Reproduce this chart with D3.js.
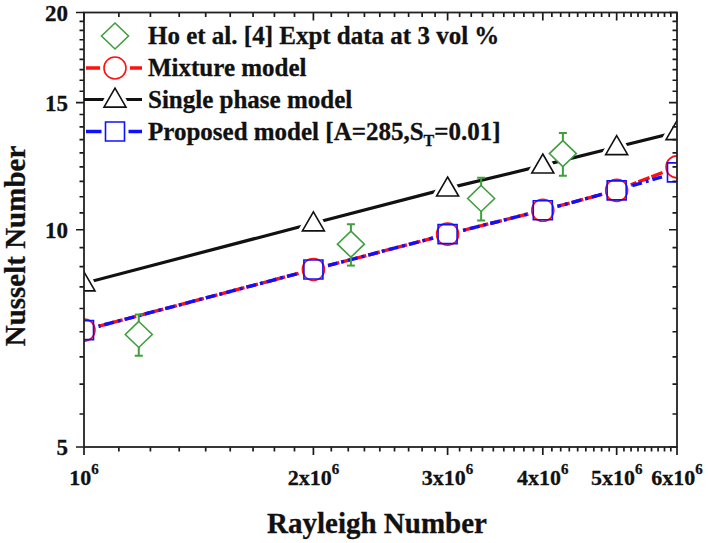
<!DOCTYPE html>
<html>
<head>
<meta charset="utf-8">
<script src="https://cdn.jsdelivr.net/npm/d3@7"></script>
<style>
  html, body { margin: 0; padding: 0; background: #fff; }
  svg { display: block; }
  text.lbl { font-family: "Liberation Serif", "Times New Roman", serif; font-weight: bold; fill: #111; stroke: #111; stroke-width: 0.3px; }
</style>
</head>
<body>
<svg id="chart" width="708" height="543"></svg>
<script>
// ---- data ----
const rayleigh     = [1e6, 2e6, 3e6, 4e6, 5e6, 6e6];
const mixtureNu    = [7.26, 8.81, 9.86, 10.64, 11.34, 12.22];
const singleNu     = [8.43, 10.21, 11.41, 12.28, 13.02, 13.66];
const proposedNu   = [7.26, 8.81, 9.86, 10.64, 11.34, 12.01];
const exptRa       = [1.18e6, 2.24e6, 3.32e6, 4.25e6];
const exptNu       = [7.16, 9.55, 11.05, 12.75];
const exptErr      = [0.47, 0.63, 0.75, 0.87];
const xMajorTicks  = [1e6, 2e6, 3e6, 4e6, 5e6, 6e6];
const xTickMant    = ["", "2x", "3x", "4x", "5x", "6x"];
const yMajorTicks  = [5, 10, 15, 20];
const legendLabels = ["Ho et al. [4] Expt data at 3 vol %", "Mixture model", "Single phase model", "Proposed model [A=285,S", "T", "=0.01]"];

// ---- layout ----
const L = 84, R = 677, T = 12.5, B = 447;
const GREEN = "#3f9f3f", RED = "#ff1010", BLUE = "#1010ff", BLACK = "#111", AXIS = "#222";

const svg = d3.select("#chart");
const x = d3.scaleLog().domain([1e6, 6e6]).range([L, R]);
const y = d3.scaleLog().domain([5, 20]).range([B, T]);

function minorTicks(majors) {
  const out = [];
  for (let i = 0; i < majors.length - 1; i++) {
    const a = majors[i], b = majors[i + 1];
    for (let k = 1; k <= 8; k++) out.push(a + k * (b - a) / 9);
  }
  return out;
}
const xMinor = minorTicks(xMajorTicks);
const yMinor = minorTicks(yMajorTicks);

svg.append("defs").append("clipPath").attr("id", "plotclip")
  .append("rect").attr("x", L).attr("y", T).attr("width", R - L).attr("height", B - T);

// ---- marker shapes ----
function trianglePath(w, h) { return `M0,${-h*0.6}L${w/2},${h*0.4}L${-w/2},${h*0.4}Z`; }
function diamondPath(w, h) { return `M0,${-h/2}L${w/2},0L0,${h/2}L${-w/2},0Z`; }
const shapePath = {
  circle: d3.symbol().type(d3.symbolCircle).size(Math.PI * 11 * 11)(),
  square: d3.symbol().type(d3.symbolSquare).size(19 * 19)(),
  triangle: trianglePath(22, 19),
  diamond: diamondPath(27, 26)
};

const plot = svg.append("g").attr("clip-path", "url(#plotclip)");
const lineGen = d3.line().x(d => x(d[0])).y(d => y(d[1]));
const zip = (a, b) => a.map((v, i) => [v, b[i]]);

plot.append("path").datum(zip(rayleigh, singleNu)).attr("d", lineGen)
  .attr("fill", "none").attr("stroke", BLACK).attr("stroke-width", 3.2);
plot.append("path").datum(zip(rayleigh, mixtureNu)).attr("d", lineGen)
  .attr("fill", "none").attr("stroke", RED).attr("stroke-width", 3.4)
  .attr("stroke-dasharray", "12,2");
plot.append("path").datum(zip(rayleigh, proposedNu)).attr("d", lineGen)
  .attr("fill", "none").attr("stroke", BLUE).attr("stroke-width", 3.4)
  .attr("stroke-dasharray", "10,4,3,4");

function halos(g, xs, ys, shape) {
  g.selectAll(null).data(zip(xs, ys)).enter().append("path")
    .attr("d", shapePath[shape])
    .attr("transform", d => `translate(${x(d[0])},${y(d[1])})`)
    .attr("fill", "#fff").attr("stroke", "#fff").attr("stroke-width", 8);
}
halos(plot, rayleigh, singleNu, "triangle");
halos(plot, rayleigh, mixtureNu, "circle");
halos(plot, rayleigh, proposedNu, "square");

function markers(g, xs, ys, shape, color, fill) {
  g.selectAll(null).data(zip(xs, ys)).enter().append("path")
    .attr("d", shapePath[shape])
    .attr("transform", d => `translate(${x(d[0])},${y(d[1])})`)
    .attr("fill", fill || "none").attr("stroke", color).attr("stroke-width", 1.6);
}
markers(plot, rayleigh, mixtureNu, "circle", RED);
markers(plot, rayleigh, proposedNu, "square", BLUE);
markers(plot, rayleigh, singleNu, "triangle", BLACK);

const eb = plot.append("g");
exptRa.forEach((ra, i) => {
  const cx = x(ra), y1 = y(exptNu[i] + exptErr[i]), y0 = y(exptNu[i] - exptErr[i]);
  [[cx, cx, y1, y0], [cx - 4, cx + 4, y1, y1], [cx - 4, cx + 4, y0, y0]].forEach(s => {
    eb.append("line").attr("x1", s[0]).attr("x2", s[1]).attr("y1", s[2]).attr("y2", s[3])
      .attr("stroke", GREEN).attr("stroke-width", 2);
  });
});
markers(plot, exptRa, exptNu, "diamond", GREEN, "#fff");

// ---- axes: frame + ticks as one path ----
let d = "";
xMajorTicks.forEach(v => { const px = x(v); d += `M${px},${B}V${B + 8}M${px},${T}V${T + 8}`; });
xMinor.forEach(v => { const px = x(v); d += `M${px},${B}V${B + 4.5}M${px},${T}V${T + 4.5}`; });
yMajorTicks.forEach(v => { const py = y(v); d += `M${L - 8},${py}H${L}M${R - 8},${py}H${R}`; });
yMinor.forEach(v => { const py = y(v); d += `M${L - 4.5},${py}H${L}M${R - 4.5},${py}H${R}`; });
svg.append("path").attr("d", d).attr("fill", "none").attr("stroke", "#1a1a1a").attr("stroke-width", 1.7);

svg.append("rect").attr("x", L).attr("y", T).attr("width", R - L).attr("height", B - T)
  .attr("fill", "none").attr("stroke", AXIS).attr("stroke-width", 1.8);

// y tick labels
svg.append("g").selectAll("text").data(yMajorTicks).enter().append("text")
  .attr("class", "lbl")
  .attr("x", L - 16).attr("y", v => y(v) + 8)
  .attr("text-anchor", "end").attr("font-size", 23).text(v => v);

// x tick labels with superscripts
const xl = svg.append("g");
xMajorTicks.forEach((v, i) => {
  const t = xl.append("text").attr("class", "lbl").attr("x", x(v)).attr("y", 485)
    .attr("text-anchor", "middle").attr("font-size", 22);
  t.append("tspan").text(xTickMant[i] + "10");
  t.append("tspan").attr("font-size", 15).attr("dy", -11).text("6");
});

// axis titles
svg.append("text").attr("class", "lbl").attr("x", 377).attr("y", 533).attr("text-anchor", "middle")
  .attr("font-size", 29).text("Rayleigh Number");
svg.append("text").attr("class", "lbl").attr("transform", "translate(25,246) rotate(-90)").attr("text-anchor", "middle")
  .attr("font-size", 29).text("Nusselt Number");

// ---- legend ----
const leg = svg.append("g");
const rowY = [36, 68, 99.5, 131.5];
const symX = 115, segX0 = 86, segX1 = 142, textX = 148;
leg.append("line").attr("x1", segX0).attr("x2", segX1).attr("y1", rowY[1]).attr("y2", rowY[1])
  .attr("stroke", RED).attr("stroke-width", 3.4);
leg.append("line").attr("x1", segX0 - 2).attr("x2", segX1).attr("y1", rowY[2]).attr("y2", rowY[2])
  .attr("stroke", BLACK).attr("stroke-width", 3.2);
leg.append("line").attr("x1", segX0).attr("x2", segX1).attr("y1", rowY[3]).attr("y2", rowY[3])
  .attr("stroke", BLUE).attr("stroke-width", 3.4);
const legShapes = [["diamond", GREEN], ["circle", RED], ["triangle", BLACK], ["square", BLUE]];
legShapes.forEach((s, i) => {
  leg.append("path").attr("d", shapePath[s[0]]).attr("transform", `translate(${symX},${rowY[i]})`)
    .attr("fill", "#fff").attr("stroke", "#fff").attr("stroke-width", 8);
  leg.append("path").attr("d", shapePath[s[0]]).attr("transform", `translate(${symX},${rowY[i]})`)
    .attr("fill", "#fff").attr("stroke", s[1]).attr("stroke-width", 1.6);
});
[0, 1, 2].forEach(i => {
  leg.append("text").attr("class", "lbl").attr("x", textX).attr("y", rowY[i] + 8).attr("font-size", 25).text(legendLabels[i]);
});
const pt = leg.append("text").attr("class", "lbl").attr("x", textX).attr("y", rowY[3] + 8).attr("font-size", 25);
pt.append("tspan").text(legendLabels[3]);
pt.append("tspan").attr("font-size", 16).attr("dy", 6).text(legendLabels[4]);
pt.append("tspan").attr("dy", -6).text(legendLabels[5]);
</script>
</body>
</html>
